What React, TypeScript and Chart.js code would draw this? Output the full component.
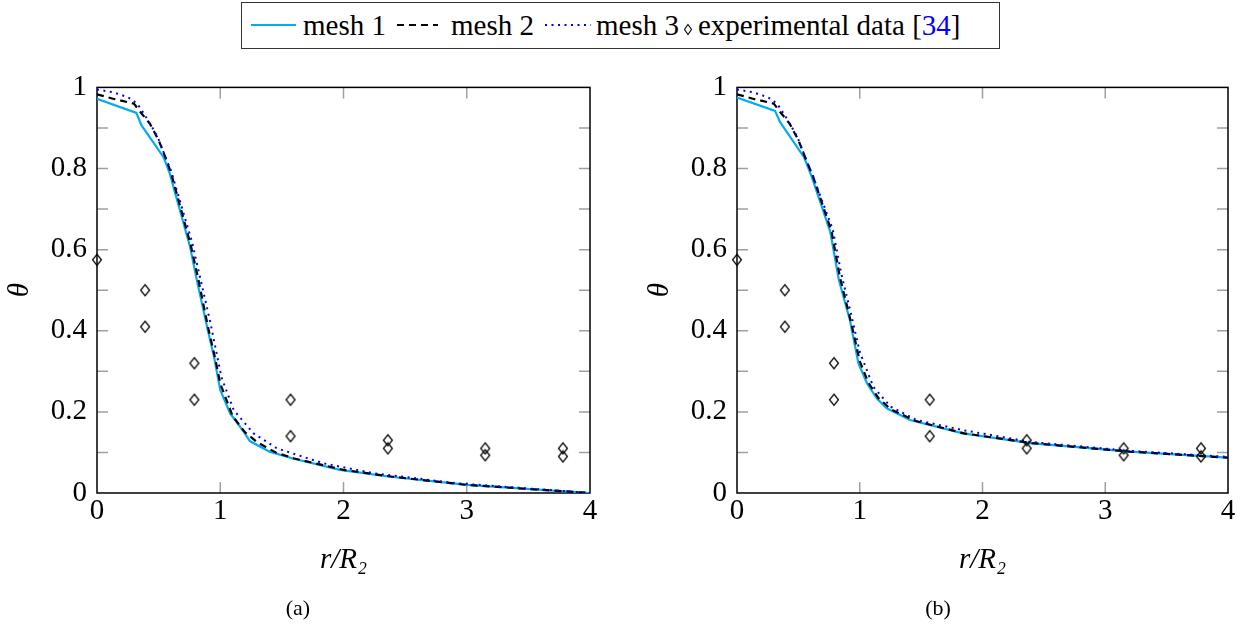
import React, { useEffect, useRef } from 'react';
import { Chart, registerables } from 'chart.js';

Chart.register(...registerables);

// ---------- data ----------
const xTicks = [0, 1, 2, 3, 4];
const xTickLabels = ['0', '1', '2', '3', '4'];
const yTicks = [0, 0.2, 0.4, 0.6, 0.8, 1];
const yTickLabels = ['0', '0.2', '0.4', '0.6', '0.8', '1'];
const yMinorTicks = [0.1, 0.3, 0.5, 0.7, 0.9];

const seriesNames = ['mesh 1', 'mesh 2', 'mesh 3', 'experimental data'];
const citation = '34';
const xTitle = 'r/R₂';
const yTitle = 'θ';
const captions = ['(a)', '(b)'];

// panel (a)
const mesh1AX = [0, 0.32, 0.36, 0.54, 0.59, 0.755, 0.81, 0.9, 0.95, 1.0, 1.08, 1.2, 1.24, 1.4, 1.59, 1.97, 2.38, 3.0, 4.0];
const mesh1AY = [0.972, 0.937, 0.907, 0.828, 0.788, 0.607, 0.525, 0.4, 0.335, 0.254, 0.196, 0.147, 0.128, 0.102, 0.085, 0.057, 0.04, 0.02, 0.0];
const mesh2AX = [0, 0.13, 0.3, 0.35, 0.43, 0.5, 0.565, 0.6, 0.76, 0.82, 0.9, 0.96, 1.0, 1.1, 1.2, 1.3, 1.45, 1.6, 2.0, 2.4, 3.0, 4.0];
const mesh2AY = [0.983, 0.972, 0.96, 0.94, 0.91, 0.87, 0.82, 0.79, 0.612, 0.53, 0.41, 0.33, 0.27, 0.19, 0.15, 0.125, 0.1, 0.085, 0.057, 0.04, 0.02, 0.0];
const mesh3AX = [0, 0.13, 0.25, 0.3, 0.335, 0.39, 0.43, 0.47, 0.51, 0.565, 0.6, 0.77, 0.83, 0.92, 1.01, 1.11, 1.27, 1.46, 1.84, 2.24, 2.92, 4.0];
const mesh3AY = [0.995, 0.988, 0.976, 0.966, 0.956, 0.931, 0.91, 0.89, 0.865, 0.82, 0.795, 0.62, 0.54, 0.42, 0.285, 0.204, 0.147, 0.11, 0.073, 0.049, 0.024, 0.0];

// panel (b)
const mesh1BX = [0, 0.31, 0.35, 0.546, 0.61, 0.76, 0.83, 0.92, 0.99, 1.06, 1.14, 1.22, 1.41, 1.84, 2.39, 3.2, 4.0];
const mesh1BY = [0.975, 0.942, 0.915, 0.828, 0.779, 0.644, 0.525, 0.426, 0.319, 0.27, 0.233, 0.209, 0.18, 0.147, 0.123, 0.102, 0.087];
const mesh2BX = [0, 0.13, 0.3, 0.35, 0.43, 0.5, 0.565, 0.62, 0.77, 0.84, 0.93, 1.0, 1.07, 1.15, 1.25, 1.45, 1.85, 2.4, 3.2, 4.0];
const mesh2BY = [0.983, 0.972, 0.96, 0.94, 0.91, 0.87, 0.82, 0.78, 0.645, 0.53, 0.42, 0.325, 0.272, 0.235, 0.207, 0.178, 0.147, 0.123, 0.102, 0.087];
const mesh3BX = [0, 0.13, 0.25, 0.3, 0.335, 0.39, 0.43, 0.47, 0.51, 0.565, 0.62, 0.78, 0.85, 0.93, 1.0, 1.11, 1.25, 1.46, 1.84, 2.39, 3.2, 4.0];
const mesh3BY = [0.995, 0.988, 0.976, 0.966, 0.956, 0.931, 0.91, 0.89, 0.865, 0.82, 0.78, 0.65, 0.54, 0.44, 0.348, 0.262, 0.213, 0.18, 0.155, 0.126, 0.104, 0.089];

// experimental data (same in both panels)
const expX = [0, 0.39, 0.39, 0.79, 0.79, 1.57, 1.57, 2.36, 2.36, 3.15, 3.15, 3.78, 3.78];
const expY = [0.575, 0.5, 0.41, 0.32, 0.23, 0.23, 0.14, 0.13, 0.11, 0.11, 0.093, 0.11, 0.09];

// ---------- styling ----------
const FONT = "'Liberation Serif', 'DejaVu Serif', serif";
const FS = 29;
const CYAN = '#00AEEF';
const BLUE = '#0000FF';
const TICK_GRAY = '#a0a0a0';

const toPts = (xs: number[], ys: number[]) => xs.map((x, i) => ({ x, y: ys[i] }));

function makeDiamond(): HTMLCanvasElement {
  const c = document.createElement('canvas');
  c.width = 12;
  c.height = 14;
  const g = c.getContext('2d')!;
  g.strokeStyle = '#000';
  g.lineWidth = 1.2;
  g.beginPath();
  g.moveTo(6, 1.5);
  g.lineTo(10.5, 7);
  g.lineTo(6, 12.5);
  g.lineTo(1.5, 7);
  g.closePath();
  g.stroke();
  return c;
}

const frameTicks = {
  id: 'frameTicks',
  beforeDatasetsDraw(chart: any) {
    const { ctx, chartArea, scales } = chart;
    const { left, right, top, bottom } = chartArea;
    const xs = scales.x;
    const ys = scales.y;
    const len = 11;
    ctx.save();
    ctx.strokeStyle = TICK_GRAY;
    ctx.lineWidth = 1.5;
    ctx.beginPath();
    for (const v of [...yTicks, ...yMinorTicks]) {
      if (v <= 0 || v >= 1) continue;
      const py = ys.getPixelForValue(v);
      ctx.moveTo(left, py);
      ctx.lineTo(left + len, py);
      ctx.moveTo(right, py);
      ctx.lineTo(right - len, py);
    }
    for (const v of xTicks) {
      if (v <= 0 || v >= 4) continue;
      const px = xs.getPixelForValue(v);
      ctx.moveTo(px, bottom);
      ctx.lineTo(px, bottom - len);
      ctx.moveTo(px, top);
      ctx.lineTo(px, top + len);
    }
    ctx.stroke();
    ctx.strokeStyle = '#000';
    ctx.lineWidth = 1.5;
    ctx.strokeRect(left, top, right - left, bottom - top);
    ctx.restore();
  },
};

type PanelProps = {
  left: number;
  width: number;
  padRight: number;
  m1: { x: number; y: number }[];
  m2: { x: number; y: number }[];
  m3: { x: number; y: number }[];
};

const CANVAS_TOP = 60;
const CANVAS_H = 540;

function Panel({ left, width, padRight, m1, m2, m3 }: PanelProps) {
  const ref = useRef<HTMLCanvasElement>(null);
  useEffect(() => {
    const diamond = makeDiamond();
    const chart = new Chart(ref.current!, {
      type: 'scatter',
      data: {
        datasets: [
          {
            label: seriesNames[3],
            data: toPts(expX, expY),
            showLine: false,
            pointStyle: diamond as any,
            pointRadius: 6,
            clip: false as any,
            order: 0,
          },
          {
            label: seriesNames[2],
            data: m3,
            showLine: true,
            borderColor: BLUE,
            borderWidth: 2,
            borderDash: [2, 4.5],
            pointRadius: 0,
            tension: 0,
            order: 1,
          },
          {
            label: seriesNames[1],
            data: m2,
            showLine: true,
            borderColor: '#000',
            borderWidth: 2.2,
            borderDash: [7, 5],
            pointRadius: 0,
            tension: 0,
            order: 2,
          },
          {
            label: seriesNames[0],
            data: m1,
            showLine: true,
            borderColor: CYAN,
            borderWidth: 2.2,
            pointRadius: 0,
            tension: 0,
            order: 3,
          },
        ],
      },
      options: {
        responsive: false,
        animation: false,
        events: [],
        layout: { padding: { top: 87 - CANVAS_TOP, right: padRight, left: 0, bottom: 0 } },
        plugins: { legend: { display: false }, tooltip: { enabled: false } },
        scales: {
          x: {
            type: 'linear',
            min: 0,
            max: 4,
            afterBuildTicks: (s: any) => {
              s.ticks = xTicks.map((v) => ({ value: v }));
            },
            ticks: {
              callback: (_v: any, i: number) => xTickLabels[i],
              font: { family: FONT, size: FS },
              color: '#000',
              padding: 1,
              maxRotation: 0,
              autoSkip: false,
            },
            grid: { display: false, drawTicks: false },
            border: { display: false },
            title: {
              display: true,
              text: xTitle,
              font: { family: FONT, size: FS, style: 'italic' },
              color: '#000',
              padding: { top: 0, bottom: 22 },
            },
            afterFit: (s: any) => {
              s.height = CANVAS_H - (493 - CANVAS_TOP);
            },
          },
          y: {
            type: 'linear',
            min: 0,
            max: 1,
            afterBuildTicks: (s: any) => {
              s.ticks = yTicks.map((v) => ({ value: v }));
            },
            ticks: {
              callback: (_v: any, i: number) => yTickLabels[i],
              font: { family: FONT, size: FS },
              color: '#000',
              padding: 10,
              autoSkip: false,
            },
            grid: { display: false, drawTicks: false },
            border: { display: false },
            title: {
              display: true,
              text: yTitle,
              font: { family: FONT, size: FS, style: 'italic' },
              color: '#000',
              padding: { top: 3, bottom: 0 },
            },
            afterFit: (s: any) => {
              s.width = 97;
            },
          },
        },
      } as any,
      plugins: [frameTicks],
    });
    return () => chart.destroy();
  }, []);
  return (
    <canvas
      ref={ref}
      width={width}
      height={CANVAS_H}
      style={{ position: 'absolute', left, top: CANVAS_TOP, width, height: CANVAS_H }}
    />
  );
}

function Legend() {
  const textStyle: React.CSSProperties = {
    position: 'absolute',
    top: 2,
    height: 46,
    lineHeight: '46px',
    fontFamily: FONT,
    fontSize: FS,
    color: '#000',
    whiteSpace: 'nowrap',
  };
  return (
    <>
      <div
        style={{
          position: 'absolute',
          left: 241,
          top: 2,
          width: 759,
          height: 47,
          border: '1.6px solid #333',
          boxSizing: 'border-box',
        }}
      />
      <svg style={{ position: 'absolute', left: 0, top: 0 }} width={1250} height={50}>
        <line x1={251} y1={25} x2={296} y2={25} stroke={CYAN} strokeWidth={2.2} />
        <line x1={397} y1={25} x2={438} y2={25} stroke="#000" strokeWidth={2.2} strokeDasharray="7 5" />
        <line x1={545} y1={25} x2={591} y2={25} stroke={BLUE} strokeWidth={2} strokeDasharray="2 4.5" />
        <polygon points="688,24.5 691.5,29.5 688,34.5 684.5,29.5" fill="none" stroke="#000" strokeWidth={1.1} />
      </svg>
      <span style={{ ...textStyle, left: 303 }}>{seriesNames[0]}</span>
      <span style={{ ...textStyle, left: 451 }}>{seriesNames[1]}</span>
      <span style={{ ...textStyle, left: 596 }}>{seriesNames[2]}</span>
      <span style={{ ...textStyle, left: 698 }}>
        {seriesNames[3]} [<span style={{ color: BLUE }}>{citation}</span>]
      </span>
    </>
  );
}

export default function App() {
  const capStyle: React.CSSProperties = {
    position: 'absolute',
    top: 594,
    width: 80,
    textAlign: 'center',
    fontFamily: FONT,
    fontSize: 22,
    lineHeight: '28px',
    color: '#000',
  };
  return (
    <div style={{ position: 'fixed', left: 0, top: 0, width: 1250, height: 634, background: '#fff', overflow: 'hidden' }}>
      <Legend />
      <Panel left={0} width={620} padRight={30} m1={toPts(mesh1AX, mesh1AY)} m2={toPts(mesh2AX, mesh2AY)} m3={toPts(mesh3AX, mesh3AY)} />
      <Panel left={640} width={610} padRight={22} m1={toPts(mesh1BX, mesh1BY)} m2={toPts(mesh2BX, mesh2BY)} m3={toPts(mesh3BX, mesh3BY)} />
      <div style={{ ...capStyle, left: 298 - 40 }}>{captions[0]}</div>
      <div style={{ ...capStyle, left: 938 - 40 }}>{captions[1]}</div>
    </div>
  );
}
